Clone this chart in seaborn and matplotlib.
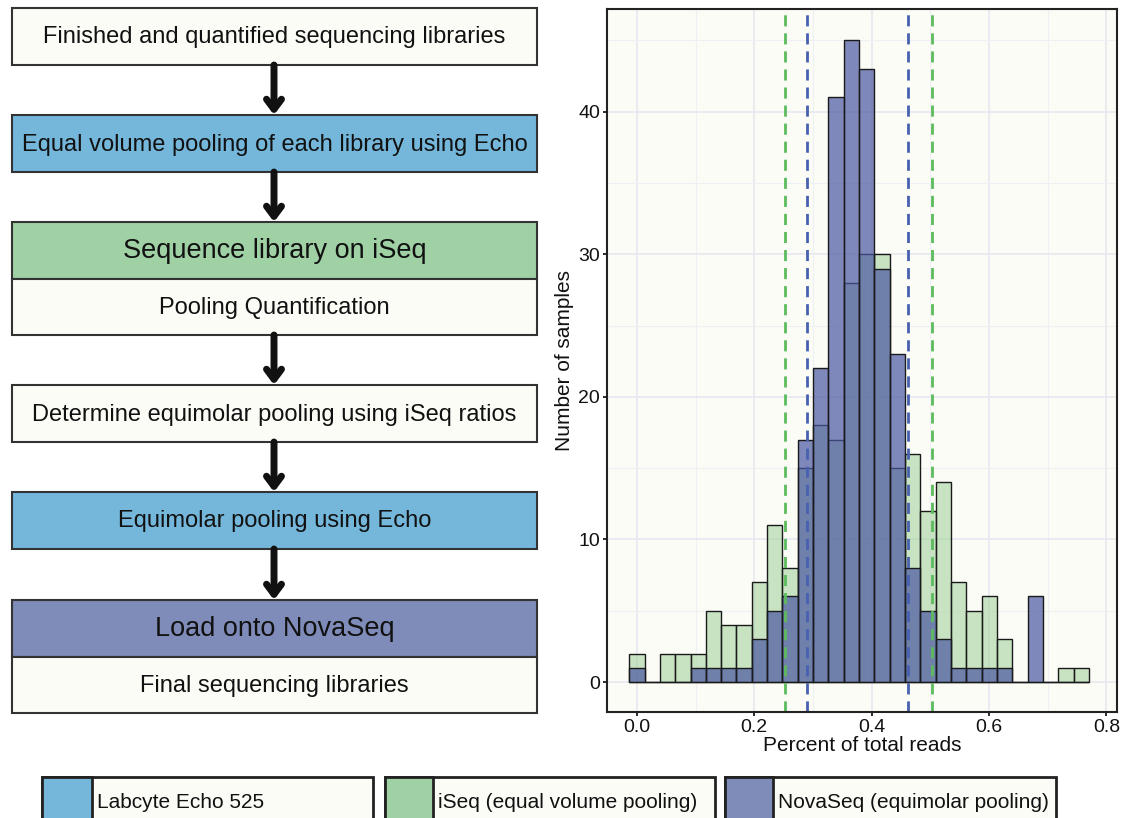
import matplotlib
matplotlib.use("Agg")
import matplotlib.pyplot as plt
import matplotlib.patches as mpatches
import seaborn as sns
import pandas as pd

# Histogram data (30 bins)
bin_width = 0.0261
bin_centers = [round(i * bin_width, 4) for i in range(30)]
iseq_counts = [2, 0, 2, 2, 2, 5, 4, 4, 7, 11, 8, 15, 18, 17, 28, 30, 30, 15, 16, 12,
               14, 7, 5, 6, 3, 0, 0, 0, 1, 1]
novaseq_counts = [1, 0, 0, 0, 1, 1, 1, 1, 3, 5, 6, 17, 22, 41, 45, 43, 29, 23, 8, 5,
                  3, 1, 1, 1, 1, 0, 6, 0, 0, 0]
iseq_lines = [0.252, 0.502]
novaseq_lines = [0.289, 0.462]

# Flowchart steps: (top label, top colour, bottom label)
flow_steps = [
    ("Finished and quantified sequencing libraries", "white", None),
    ("Equal volume pooling of each library using Echo", "echo", None),
    ("Sequence library on iSeq", "iseq", "Pooling Quantification"),
    ("Determine equimolar pooling using iSeq ratios", "white", None),
    ("Equimolar pooling using Echo", "echo", None),
    ("Load onto NovaSeq", "nova", "Final sequencing libraries"),
]
legend_labels = ["Labcyte Echo 525", "iSeq (equal volume pooling)", "NovaSeq (equimolar pooling)"]

colors = {"white": "#fcfcf7", "echo": "#74b7db", "iseq": "#9fd1a5", "nova": "#7f8bb8"}

sns.set_theme(style="whitegrid")
plt.rcParams['font.family'] = ['Liberation Sans', 'DejaVu Sans']

fig = plt.figure(figsize=(11.36, 8.18), dpi=100)
fig.patch.set_facecolor('white')

# ---- flowchart on a pixel-coordinate canvas ----
canvas = fig.add_axes([0, 0, 1, 1])
canvas.set_xlim(0, 1136)
canvas.set_ylim(818, 0)
canvas.axis('off')

box_x0, box_x1 = 12, 537
box_tops = [8, 115, 222, 385, 492, 600]
box_h = 57
for (label, col, sub), top in zip(flow_steps, box_tops):
    big = sub is not None
    canvas.add_patch(mpatches.Rectangle((box_x0, top), box_x1 - box_x0, box_h,
                                        facecolor=colors[col], edgecolor='#333333', lw=1.5))
    canvas.text((box_x0 + box_x1) / 2, top + box_h / 2 + 1, label, ha='center', va='center',
                fontsize=19.5 if big else 17, color='#111111')
    if sub:
        canvas.add_patch(mpatches.Rectangle((box_x0, top + box_h), box_x1 - box_x0, 56,
                                            facecolor=colors["white"], edgecolor='#333333', lw=1.5))
        canvas.text((box_x0 + box_x1) / 2, top + box_h + 29, sub, ha='center', va='center',
                    fontsize=17, color='#111111')

arrow_spans = [(65, 115), (172, 222), (335, 385), (442, 492), (549, 600)]
for y0, y1 in arrow_spans:
    canvas.annotate("", xy=(274, y1), xytext=(274, y0),
                    arrowprops=dict(arrowstyle="->,head_length=0.6,head_width=0.45",
                                    lw=5, color='#111111', shrinkA=0, shrinkB=0))

# ---- legend boxes at the bottom ----
legend_boxes = [(42, 373, 50), (385, 715, 48), (725, 1056, 48)]
for (x0, x1, sw), lab, col in zip(legend_boxes, legend_labels, ["echo", "iseq", "nova"]):
    canvas.add_patch(mpatches.Rectangle((x0, 777), x1 - x0, 60, facecolor=colors["white"],
                                        edgecolor='#222222', lw=2))
    canvas.add_patch(mpatches.Rectangle((x0, 777), sw, 60, facecolor=colors[col],
                                        edgecolor='#222222', lw=2))
    canvas.text(x0 + sw + 5, 802, lab, ha='left', va='center', fontsize=15,
                color='#111111')

# ---- histogram ----
ax = fig.add_axes([607 / 1136, (818 - 712) / 818, 510 / 1136, 703 / 818])
ax.set_facecolor('#fcfcf7')

edges = [round(i * bin_width - bin_width / 2, 4) for i in range(31)]
df = pd.DataFrame({"pct": bin_centers * 2,
                   "count": iseq_counts + novaseq_counts,
                   "run": ["iSeq"] * 30 + ["NovaSeq"] * 30})

sns.histplot(data=df[df.run == "iSeq"], x="pct", weights="count", bins=edges,
             color="#a6d39f", alpha=0.6, edgecolor="#1a1a1a", linewidth=1, ax=ax)
sns.histplot(data=df[df.run == "NovaSeq"], x="pct", weights="count", bins=edges,
             color="#4a57a1", alpha=0.7, edgecolor="#1a1a1a", linewidth=1, ax=ax)

for v in iseq_lines:
    ax.axvline(v, color="#5cbb5c", ls=(0, (4, 2.5)), lw=2)
for v in novaseq_lines:
    ax.axvline(v, color="#4860b0", ls=(0, (4, 2.5)), lw=2)

ax.set_xlim(-0.051, 0.818)
ax.set_ylim(-2.1, 47.2)
ax.set_xticks([0.0, 0.2, 0.4, 0.6, 0.8])
ax.set_xticklabels(["0.0", "0.2", "0.4", "0.6", "0.8"])
ax.set_yticks([0, 10, 20, 30, 40])
ax.set_xticks([0.1, 0.3, 0.5, 0.7], minor=True)
ax.set_yticks([5, 15, 25, 35, 45], minor=True)
ax.grid(which='major', color='#e6e8f0', lw=1.2)
ax.grid(which='minor', color='#eff0f4', lw=0.8)
ax.set_axisbelow(True)
ax.tick_params(axis='both', which='major', labelsize=14, colors='#111111',
               length=3, pad=2, bottom=True, left=True)
ax.tick_params(which='minor', length=0)
for s in ax.spines.values():
    s.set_color('#222222')
    s.set_linewidth(1.5)
ax.set_xlabel("Percent of total reads", fontsize=15, color='#111111', labelpad=0)
ax.set_ylabel("Number of samples", fontsize=15, color='#111111', labelpad=3)

fig.savefig("out.png", dpi=100, facecolor='white')
